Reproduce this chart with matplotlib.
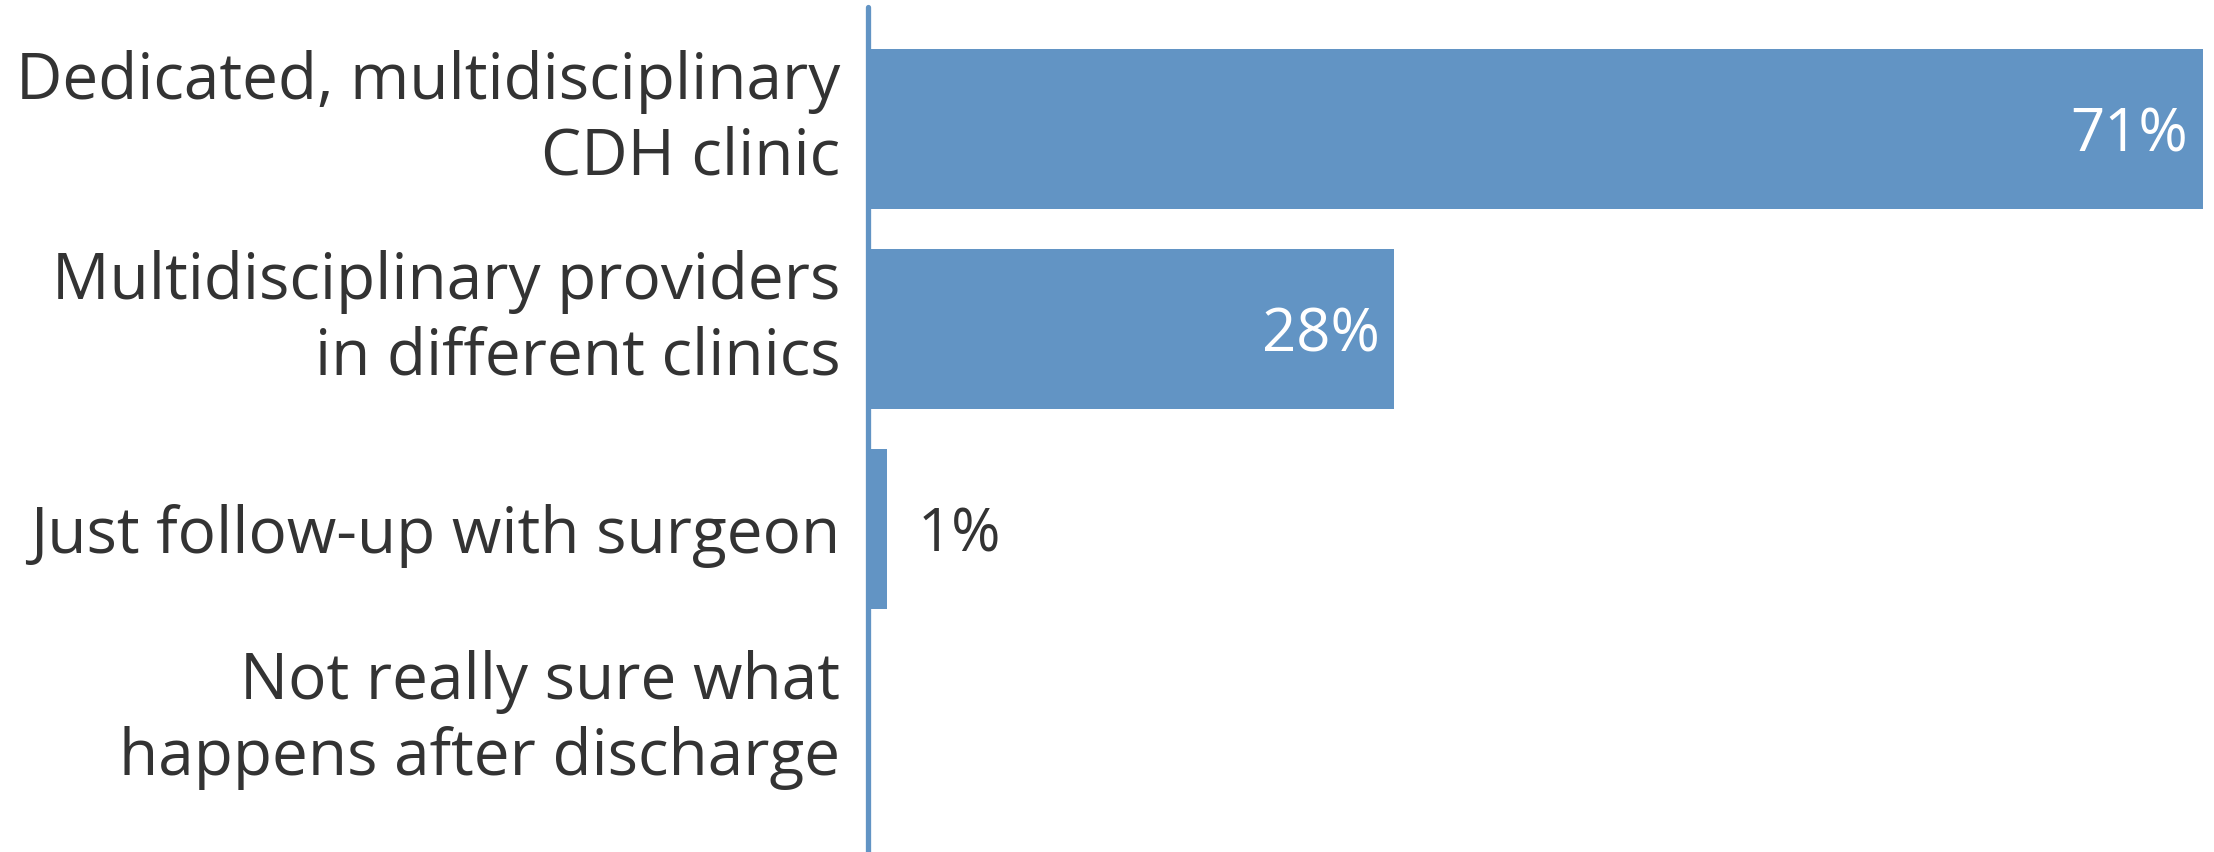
import matplotlib.pyplot as plt
from matplotlib.transforms import ScaledTranslation

# Data
categories = [
    "Dedicated, multidisciplinary\nCDH clinic",
    "Multidisciplinary providers\nin different clinics",
    "Just follow-up with surgeon",
    "Not really sure what\nhappens after discharge",
]
values = [71, 28, 1, 0]
value_labels = ["71%", "28%", "1%", ""]

bar_color = "#6294c4"
text_color = "#333333"

plt.rcParams['font.family'] = ['Open Sans', 'DejaVu Sans']

W, H, DPI = 2214, 852, 100
fig = plt.figure(figsize=(W / DPI, H / DPI), dpi=DPI)
ax = fig.add_axes([868 / W, 0, (W - 868) / W, 845 / H])

y = list(range(len(categories)))
ax.barh(y, values, height=0.8, color=bar_color)

ax.set_xlim(0, 71.59)
ax.set_ylim(3.6175, -0.6075)

# value labels: inside the bar when there is room, otherwise just outside
for yi, v, lab in zip(y, values, value_labels):
    if not lab:
        continue
    if v >= 10:
        ax.text(v - 0.8, yi, lab, ha='right', va='center_baseline',
                color='white', fontsize=43)
    else:
        ax.text(v + 1.65, yi, lab, ha='left', va='center_baseline',
                color=text_color, fontsize=43)

ax.set_yticks(y)
ax.set_yticklabels(categories, fontsize=46, color=text_color, linespacing=1.24)
ax.tick_params(axis='y', length=0, pad=20)
ax.set_xticks([])

# two-line labels sit a little above the bar centre
for lab in ax.get_yticklabels():
    if "\n" in lab.get_text():
        lab.set_transform(lab.get_transform() +
                          ScaledTranslation(0, 0.22, fig.dpi_scale_trans))

for s in ['top', 'right', 'bottom']:
    ax.spines[s].set_visible(False)
ax.spines['left'].set_color(bar_color)
ax.spines['left'].set_linewidth(3.8)
ax.spines['left'].set_capstyle('round')

fig.savefig("out.png", dpi=DPI)
